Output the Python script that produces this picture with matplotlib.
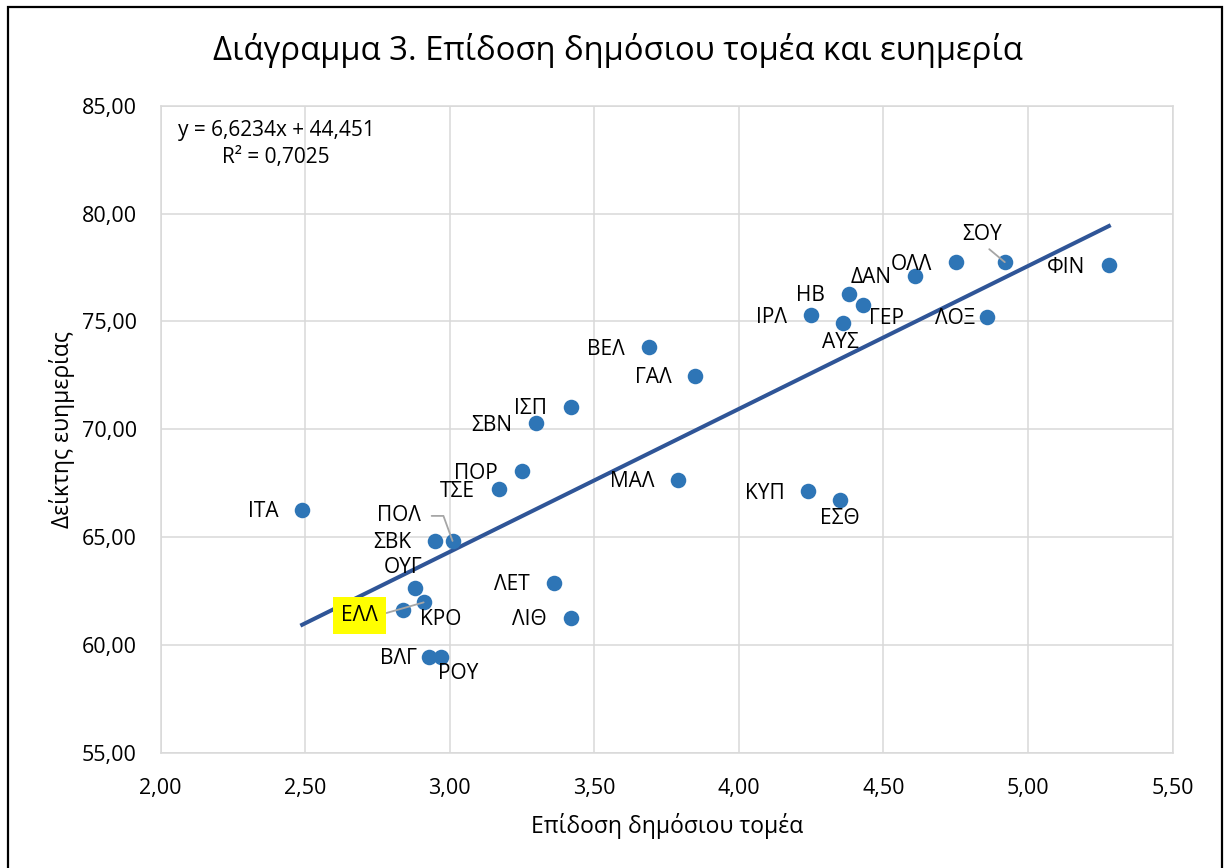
import numpy as np
import matplotlib
matplotlib.use("Agg")
import matplotlib.pyplot as plt
from matplotlib.patches import Rectangle
from matplotlib.ticker import FuncFormatter

plt.rcParams['font.family'] = ['Open Sans', 'DejaVu Sans']

#---------------------#
#   DATA (read off)   #
#---------------------#
countries = ["ΙΤΑ", "ΣΒΝ", "ΙΣΠ", "ΠΟΡ", "ΤΣΕ", "ΠΟΛ", "ΣΒΚ", "ΟΥΓ", "ΕΛΛ", "ΚΡΟ",
             "ΒΛΓ", "ΡΟΥ", "ΛΕΤ", "ΛΙΘ", "ΜΑΛ", "ΚΥΠ", "ΕΣΘ", "ΒΕΛ", "ΓΑΛ", "ΙΡΛ",
             "ΑΥΣ", "ΗΒ", "ΓΕΡ", "ΔΑΝ", "ΟΛΛ", "ΣΟΥ", "ΛΟΞ", "ΦΙΝ"]
public_perf = [2.49, 3.30, 3.42, 3.25, 3.17, 3.01, 2.95, 2.88, 2.91, 2.84,
               2.93, 2.97, 3.36, 3.42, 3.79, 4.24, 4.35, 3.69, 3.85, 4.25,
               4.36, 4.38, 4.43, 4.61, 4.75, 4.92, 4.86, 5.28]
welfare = [66.27, 70.28, 71.05, 68.05, 67.22, 64.83, 64.83, 62.67, 61.98, 61.62,
           59.43, 59.45, 62.90, 61.26, 67.66, 67.14, 66.72, 73.80, 72.48, 75.29,
           74.93, 76.29, 75.78, 77.13, 77.75, 77.75, 75.23, 77.60]

trend_slope = 6.6234
trend_intercept = 44.451
r_squared = 0.7025

x_ticks = [2.0, 2.5, 3.0, 3.5, 4.0, 4.5, 5.0, 5.5]
y_ticks = [55, 60, 65, 70, 75, 80, 85]

title = "Διάγραμμα 3. Επίδοση δημόσιου τομέα και ευημερία"
xlabel = "Επίδοση δημόσιου τομέα"
ylabel = "Δείκτης ευημερίας"

# label placement: (ha, dx px, dy px down), default is left of the point
label_pos = {
    "ΠΟΛ": ("right", -32, -25),
    "ΟΥΓ": ("center", -12, -20),
    "ΕΛΛ": ("center", -64, 13),
    "ΚΡΟ": ("left", 17, 9),
    "ΒΛΓ": ("right", -12, 1),
    "ΡΟΥ": ("center", 17, 17),
    "ΕΣΘ": ("center", 0, 18),
    "ΑΥΣ": ("center", -2, 20),
    "ΓΕΡ": ("left", 6, 14),
    "ΣΟΥ": ("center", -23, -28),
    "ΛΟΞ": ("right", -12, 2),
}
default_pos = ("right", -24, 2)

dot_color = "#2E75B6"
trend_color = "#2F5597"
grid_color = "#D9D9D9"
px = 0.72  # points per pixel at dpi 100

fig = plt.figure(figsize=(12.26, 8.68), dpi=100)
ax = fig.add_axes([160.5 / 1226, 1 - 753 / 868, 1012 / 1226, 647.3 / 868])

ax.set_xlim(2.0, 5.5)
ax.set_ylim(55, 85)
ax.set_xticks(x_ticks)
ax.set_yticks(y_ticks)
comma = FuncFormatter(lambda v, p: f"{v:.2f}".replace(".", ","))
ax.xaxis.set_major_formatter(comma)
ax.yaxis.set_major_formatter(comma)
ax.tick_params(length=0, labelsize=15.5, pad=17)
ax.tick_params(axis='x', pad=18)
ax.grid(color=grid_color, lw=1.1)
ax.set_axisbelow(True)
for s in ax.spines.values():
    s.set_color(grid_color)
    s.set_linewidth(1.1)

# trend line over the data range
xt = np.array([min(public_perf), max(public_perf)])
ax.plot(xt, trend_slope * xt + trend_intercept, color=trend_color, lw=2.9, zorder=2)

ax.scatter(public_perf, welfare, s=125, color=dot_color, zorder=3, linewidths=0)

for name, xv, yv in zip(countries, public_perf, welfare):
    ha, dx, dy = label_pos.get(name, default_pos)
    kw = {}
    if name == "ΕΛΛ":
        kw["bbox"] = dict(boxstyle="square,pad=0.4", fc="#FFFF00", ec="none")
        kw["arrowprops"] = dict(arrowstyle="-", color="#A6A6A6", lw=1.3,
                                shrinkA=0, shrinkB=0, relpos=(1, 0.5))
    elif name == "ΠΟΛ":
        kw["arrowprops"] = dict(arrowstyle="-", color="#A6A6A6", lw=1.3,
                                shrinkA=6, shrinkB=0, relpos=(1, 0.5),
                                connectionstyle="angle,angleA=0,angleB=110,rad=0")
    elif name == "ΣΟΥ":
        kw["arrowprops"] = dict(arrowstyle="-", color="#A6A6A6", lw=1.3,
                                shrinkA=2, shrinkB=0, relpos=(0.55, 0))
    ax.annotate(name, (xv, yv), xytext=(dx * px, -dy * px), textcoords="offset points",
                ha=ha, va="center", fontsize=15, color="black", zorder=4, **kw)

eq = (f"y = {trend_slope:.4f}".replace(".", ",") + "x + "
      + f"{trend_intercept:.3f}".replace(".", ",")
      + "\nR² = " + f"{r_squared:.4f}".replace(".", ","))
fig.text(276 / 1226, 1 - 144 / 868, eq, ha="center", va="center",
         multialignment="center", fontsize=15, linespacing=1.32)

fig.text(618 / 1226, 1 - 50 / 868, title, ha="center", va="center", fontsize=23.7)
fig.text(667 / 1226, 1 - 826 / 868, xlabel, ha="center", va="center", fontsize=16.5)
fig.text(62 / 1226, 1 - 430 / 868, ylabel, ha="center", va="center", fontsize=16.5,
         rotation=90)

# outer chart border
fig.patches.append(Rectangle((8 / 1226, -0.05), 1213.7 / 1226, 1.05 - 7 / 868,
                             transform=fig.transFigure, fill=False, ec="black", lw=1.6))

fig.savefig("out.png", dpi=100)
